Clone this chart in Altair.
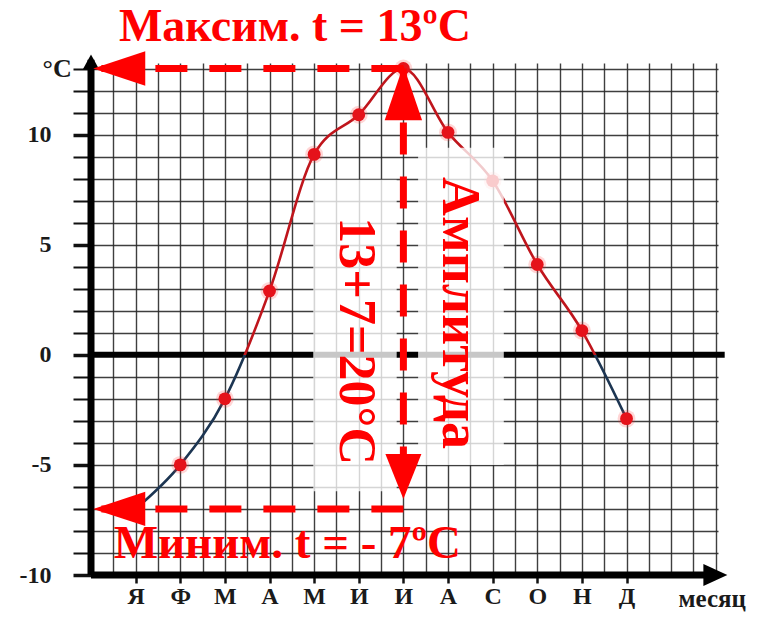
import altair as alt
import pandas as pd

# ---- data ----
months = ["Я", "Ф", "М", "А", "М", "И", "И", "А", "С", "О", "Н", "Д"]
month_pos = list(range(1, 13))
temps = [-7, -5, -2, 2.9, 9.1, 10.9, 13, 10.1, 7.9, 4.1, 1.1, -2.9]
y_ticks = list(range(-10, 14))
y_labels = [-10, -5, 0, 5, 10]
x_grid = [i / 2 for i in range(0, 29)]

t_max = max(temps)
t_min = min(temps)
m_max = month_pos[temps.index(t_max)]
amp = t_max - t_min

title_max = f"Максим. t = {t_max:g}ºC"
title_min = f"Миним. t = - {abs(t_min):g}ºC"
amp_text = f"{t_max:g}+{abs(t_min):g}={amp:g}°C"
amp_word = "Амплитуда"

RED = "#ff0000"
FONT = "Liberation Serif"

W, H = 627, 512
XS = alt.Scale(domain=[0, 14.05], nice=False, zero=False)
YS = alt.Scale(domain=[-10, 13.25], nice=False, zero=False)

month_js = "[" + ",".join("'" + m + "'" for m in months) + "]"
x_axis = alt.Axis(
    values=x_grid, grid=True, gridColor="#2a2a2a", gridWidth=1.4, gridOpacity=0.9,
    domain=False, ticks=True, tickSize=8, tickWidth=2.5, tickColor="#111",
    tickOpacity={"condition": {"test": "datum.value >= 1 && datum.value <= 12 && datum.value % 1 == 0", "value": 1}, "value": 0},
    labelExpr=f"datum.value >= 1 && datum.value <= 12 && datum.value % 1 == 0 ? {month_js}[datum.value - 1] : ''",
    labelFont=FONT, labelFontWeight="bold", labelFontSize=24, labelColor="#1a1a1a",
    labelPadding=1, labelOverlap=False, labelFlush=False, title=None,
)
ylab_js = "[" + ",".join(str(v) for v in y_labels) + "]"
y_axis = alt.Axis(
    values=y_ticks, grid=True, gridColor="#2a2a2a", gridWidth=1.4, gridOpacity=0.9,
    domain=False, ticks=True, tickSize=18, tickColor="#111",
    tickWidth={"condition": {"test": "datum.value % 5 == 0", "value": 3.5}, "value": 2},
    labelExpr=f"indexof({ylab_js}, datum.value) >= 0 ? '' + datum.value : ''",
    labelFont=FONT, labelFontWeight="bold", labelFontSize=24, labelColor="#1a1a1a",
    labelPadding=22, labelOverlap=False, labelFlush=False, title=None,
)


def X(f):
    return alt.X(f, type="quantitative", scale=XS, axis=x_axis)


def Y(f):
    return alt.Y(f, type="quantitative", scale=YS, axis=y_axis)


def X2(f):
    return alt.X2(f)


def Y2(f):
    return alt.Y2(f)


# thick axis lines and zero line
axes_df = pd.DataFrame({
    "x": [0, 0, 0], "x2": [13.8, 0, 14.2],
    "y": [-10, -10, 0], "y2": [-10, 13.4, 0],
    "w": [7, 7, 6],
})
axes_layer = alt.Chart(axes_df).mark_rule(color="black").encode(
    x=X("x"), x2=X2("x2"), y=Y("y"), y2=Y2("y2"),
    strokeWidth=alt.StrokeWidth("w:Q", scale=None),
)

up_arrow_df = pd.DataFrame({"x": [0], "y": [13.64]})
up_arrow = alt.Chart(up_arrow_df).mark_point(
    shape="M0,0L-0.55,1L0.55,1Z", filled=True, color="black", size=900, opacity=1
).encode(x=X("x"), y=Y("y"))
right_arrow_df = pd.DataFrame({"x": [14.26], "y": [-10]})
right_arrow = alt.Chart(right_arrow_df).mark_point(
    shape="M0,0L-1,-0.46L-1,0.46Z", filled=True, color="black", size=2304, opacity=1
).encode(x=X("x"), y=Y("y"))

# temperature curve
df = pd.DataFrame({"m": month_pos, "t": temps, "name": months})
zero_off = t_max / (t_max - t_min)
grad = alt.LinearGradient(
    gradient="linear", x1=0, x2=0, y1=0, y2=1,
    stops=[
        alt.GradientStop(color="#bf151c", offset=0),
        alt.GradientStop(color="#bf151c", offset=zero_off),
        alt.GradientStop(color="#1c3552", offset=zero_off),
        alt.GradientStop(color="#1c3552", offset=1),
    ],
)
line = alt.Chart(df).mark_line(stroke=grad, strokeWidth=2.6, interpolate="monotone").encode(
    x=X("m"), y=Y("t")
)
glow = alt.Chart(df).mark_circle(color="#ff3030", size=320, opacity=0.2).encode(x=X("m"), y=Y("t"))
dots = alt.Chart(df).mark_circle(color="#e5121a", size=165, opacity=1).encode(x=X("m"), y=Y("t"))

# semi-transparent white boxes behind the rotated texts
box_df = pd.DataFrame({"x": [4.98, 7.33], "x2": [6.85, 9.25], "y": [7.95, 9.4], "y2": [-6.2, -5.0]})
boxes = alt.Chart(box_df).mark_rect(color="white", opacity=0.78).encode(
    x=X("x"), x2=X2("x2"), y=Y("y"), y2=Y2("y2")
)

# red dashed annotation lines
dash_df = pd.DataFrame({
    "x": [m_max, m_max, m_max], "x2": [0.05, m_max, 0.05],
    "y": [t_max, t_max, t_min], "y2": [t_max, -6.6, t_min],
})
dashes = alt.Chart(dash_df).mark_rule(color=RED, strokeWidth=7, strokeDash=[32, 22]).encode(
    x=X("x"), x2=X2("x2"), y=Y("y"), y2=Y2("y2")
)

left_df = pd.DataFrame({"x": [0.05, 0.05], "y": [t_max, t_min]})
left_arrows = alt.Chart(left_df).mark_point(
    shape="M0,0L1,-0.33L1,0.33Z", filled=True, color=RED, size=10816, opacity=1
).encode(x=X("x"), y=Y("y"))
upr_df = pd.DataFrame({"x": [m_max], "y": [13.15]})
up_red = alt.Chart(upr_df).mark_point(
    shape="M0,0L-0.34,1L0.34,1Z", filled=True, color=RED, size=12100, opacity=1
).encode(x=X("x"), y=Y("y"))
dnr_df = pd.DataFrame({"x": [m_max], "y": [-6.55]})
down_red = alt.Chart(dnr_df).mark_point(
    shape="M0,0L-0.4,-1L0.4,-1Z", filled=True, color=RED, size=8100, opacity=1
).encode(x=X("x"), y=Y("y"))


# texts
def txt(text, x, y, size, color=RED, angle=0, baseline="alphabetic", align="center"):
    d = pd.DataFrame({"x": [x], "y": [y], "s": [text]})
    kw = dict(font=FONT, fontWeight="bold", fontSize=size, color=color,
              baseline=baseline, align=align)
    if angle:
        kw["angle"] = angle
    return alt.Chart(d).mark_text(**kw).encode(x=X("x"), y=Y("y"), text="s:N")


t1 = txt(title_max, 4.57, 14.25, 46)
t2 = txt(title_min, 4.4, -9.25, 47)
t3 = txt(amp_text, 5.94, 0.62, 52, angle=90, baseline="middle")
t4 = txt(amp_word, 8.25, 1.9, 54, angle=90, baseline="middle")
t5 = txt("°C", -0.76, 13.0, 26, color="#1a1a1a", baseline="middle")
t6 = txt("месяц", 13.92, -11.45, 25, color="#1a1a1a", baseline="alphabetic")

# decorative grey bar at the top right
bar_df = pd.DataFrame({"x": [11.75], "x2": [13.34], "y": [16.14], "y2": [16.0]})
bar = alt.Chart(bar_df).mark_rect(
    color=alt.LinearGradient(gradient="linear", x1=0, x2=1, y1=0, y2=0,
                             stops=[alt.GradientStop(color="#ffffff", offset=0),
                                    alt.GradientStop(color="#999999", offset=1)])
).encode(x=X("x"), x2=X2("x2"), y=Y("y"), y2=Y2("y2"))

chart = alt.layer(
    axes_layer, line, glow, dots, boxes, dashes, up_arrow, right_arrow,
    left_arrows, up_red, down_red, t1, t2, t3, t4, t5, t6, bar,
).properties(
    width=W, height=H,
    autosize=alt.AutoSizeParams(type="none"),
    padding={"left": 83, "top": 55, "right": 37, "bottom": 37},
    background="white",
).configure_view(stroke=None)

chart.save("out.html", embed_options={"renderer": "svg", "actions": False})
